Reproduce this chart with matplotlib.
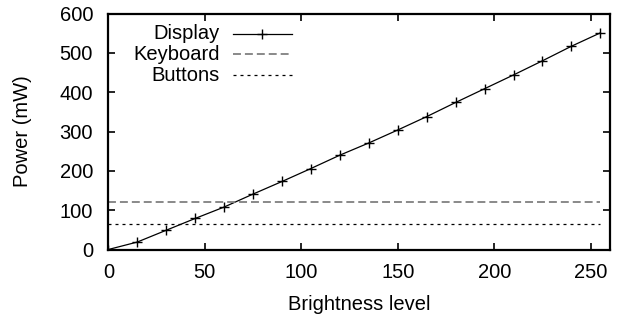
import matplotlib
matplotlib.use("Agg")
import matplotlib.pyplot as plt
import numpy as np

plt.rcParams["font.family"] = ["Liberation Sans", "DejaVu Sans"]
plt.rcParams["font.size"] = 14.5

# Display power at each sampled brightness level (mW)
brightness = [0, 15, 30, 45, 60, 75, 90, 105, 120, 135, 150, 165, 180, 195, 210, 225, 240, 255]
display_mw = [0, 19, 49, 79, 108, 141, 173, 206, 240, 271, 304, 338, 374, 409, 444, 480, 517, 551]
keyboard_mw = 121
buttons_mw = 66

x_ticks = [0, 50, 100, 150, 200, 250]
y_ticks = [0, 100, 200, 300, 400, 500, 600]

fig = plt.figure(figsize=(6.19, 3.16), dpi=100)
ax = fig.add_axes([0.175, 0.2104, 0.8105, 0.7466])

xs = np.array(brightness)
ax.plot(xs, display_mw, color="black", linewidth=0.9, marker="+",
        markersize=6.5, markeredgewidth=1.0)
ax.plot([xs[0], xs[-1]], [keyboard_mw, keyboard_mw], color="#808080",
        linewidth=1.3, dashes=(4.4, 2.2))
ax.plot([xs[0], xs[-1]], [buttons_mw, buttons_mw], color="black",
        linewidth=0.9, dashes=(2.4, 3.2))

ax.set_xlim(0, 260)
ax.set_ylim(0, 600)
ax.set_xticks(x_ticks)
ax.set_yticks(y_ticks)
ax.tick_params(direction="in", top=True, right=True, length=5, width=1.2)
ax.tick_params(axis="x", pad=10)
ax.tick_params(axis="y", pad=11)
for spine in ax.spines.values():
    spine.set_linewidth(1.6)

ax.set_xlabel("Brightness level", labelpad=9)
ax.set_ylabel("Power (mW)", labelpad=20)

# gnuplot-style key: right-aligned labels, sample line on the right
key_rows = [
    ("Display", dict(color="black", linewidth=0.9, marker="+", markersize=6.5,
                     markeredgewidth=1.0, markevery=[1])),
    ("Keyboard", dict(color="#808080", linewidth=1.3, dashes=(4.4, 2.2))),
    ("Buttons", dict(color="black", linewidth=0.9, dashes=(2.4, 3.2))),
]
row_y = [0.915, 0.828, 0.739]
for (label, style), yy in zip(key_rows, row_y):
    ax.text(0.2226, yy, label, transform=ax.transAxes, ha="right", va="center")
    ax.plot([0.2477, 0.3072, 0.3667], [yy, yy, yy], transform=ax.transAxes,
            clip_on=False, **style)

fig.savefig("out.png", dpi=100)
